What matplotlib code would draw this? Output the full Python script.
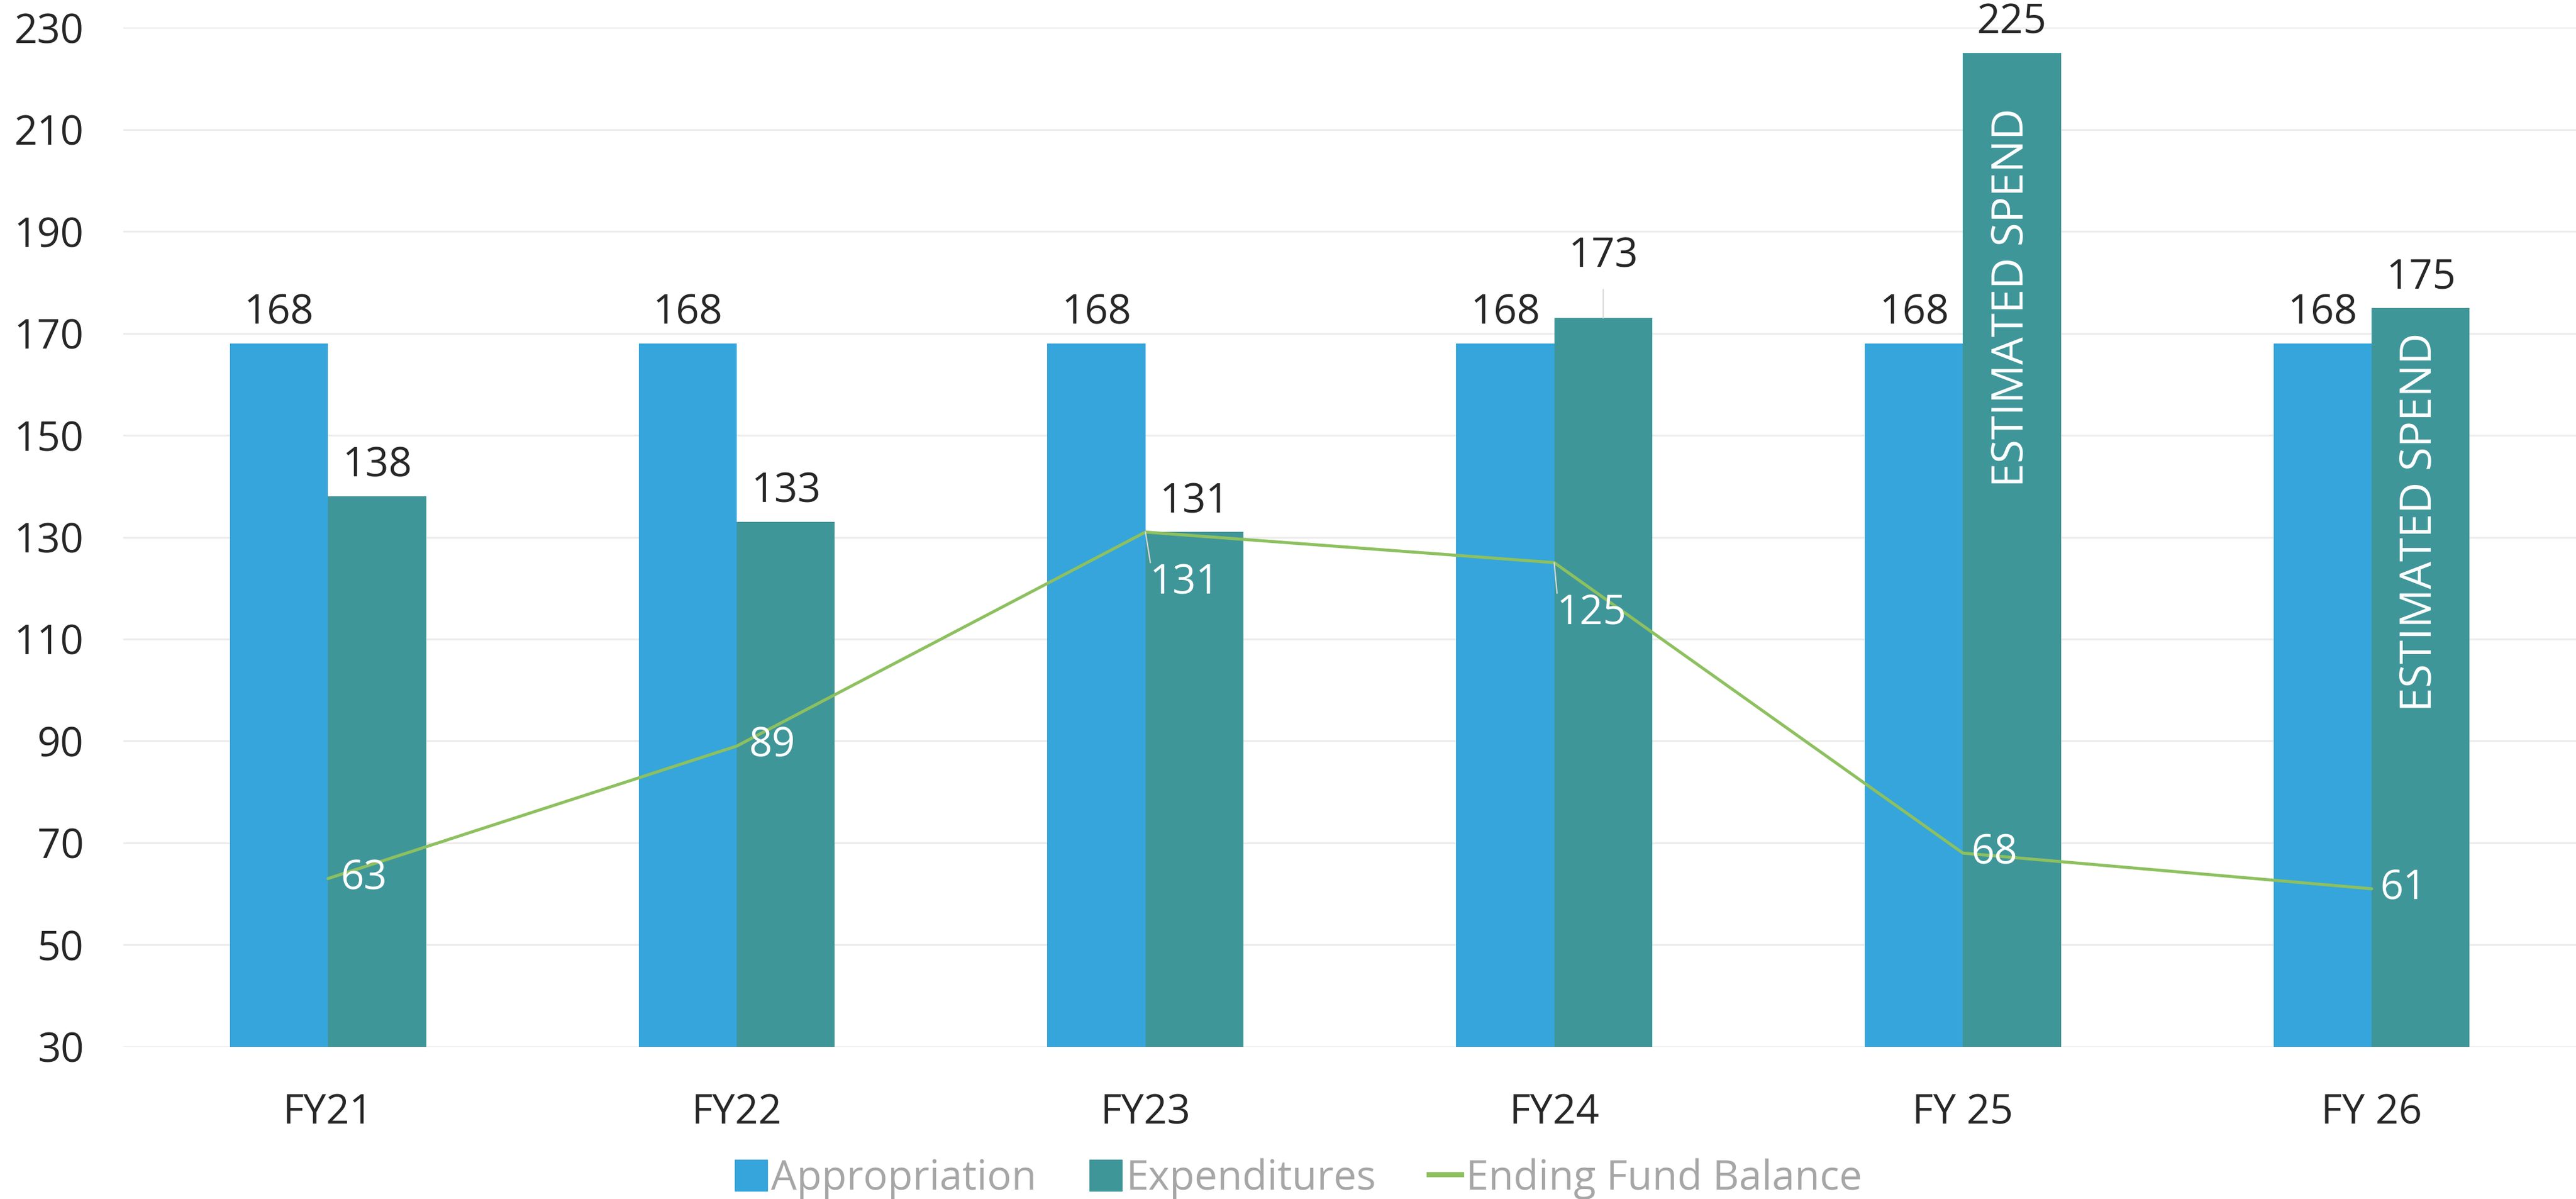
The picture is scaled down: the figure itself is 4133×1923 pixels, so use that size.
import matplotlib
matplotlib.use("Agg")
import numpy as np
import matplotlib.pyplot as plt
from matplotlib.patches import Patch
from matplotlib.lines import Line2D

# -- chart data
years = ["FY21", "FY22", "FY23", "FY24", "FY 25", "FY 26"]
appropriation = [168, 168, 168, 168, 168, 168]
expenditures = [138, 133, 131, 173, 225, 175]
fund_balance = [63, 89, 131, 125, 68, 61]
estimated = [False, False, False, False, True, True]

# -- label placement for the balance line (x shift, y shift in data units)
bal_dx = [0.03, 0.03, 0.01, 0.005, 0.02, 0.02]
bal_dy = [0, 0, -10, -10, 0, 0]
# -- centre of the rotated "ESTIMATED SPEND" note, in data units
est_y = [0, 0, 0, 0, 177, 133]

c_app = "#35A5DB"
c_exp = "#3F9699"
c_bal = "#8DC05F"
c_txt = "#262626"
c_lead = "#D9D9D9"

plt.rcParams["font.family"] = ["Open Sans", "DejaVu Sans"]
fs = 47

fig = plt.figure(figsize=(41.33, 19.23), dpi=100)
ax = fig.add_axes([0.048, 0.127, 0.952, 0.85])

x = np.arange(len(years))
w = 0.24
ax.bar(x - w / 2, appropriation, w, bottom=0, color=c_app, zorder=2)
ax.bar(x + w / 2, expenditures, w, bottom=0, color=c_exp, zorder=2)
ax.plot(x, fund_balance, color=c_bal, lw=3.5, zorder=3, solid_capstyle="round")

ax.set_xlim(-0.5, len(years) - 0.5)
ax.set_ylim(30, 230)
ax.set_yticks(range(30, 231, 20))
ax.set_xticks(x)
ax.set_xticklabels(years)
ax.grid(axis="y", color="#EBEBEB", lw=2, zorder=0)
for s in ax.spines.values():
    s.set_visible(False)
ax.tick_params(axis="both", length=0, labelsize=fs, colors=c_txt)
ax.tick_params(axis="y", pad=46)
ax.tick_params(axis="x", pad=53)

# -- bar value labels
for i in range(len(years)):
    ax.annotate(str(appropriation[i]), (x[i] - w / 2, appropriation[i]),
                xytext=(0, 11), textcoords="offset points", ha="center",
                va="bottom", fontsize=fs, color=c_txt, zorder=5)
    if i == 3:
        # -- this label is pushed up with a leader line
        ax.annotate(str(expenditures[i]), (x[i] + w / 2, expenditures[i]),
                    xytext=(0, 47), textcoords="offset points", ha="center",
                    va="bottom", fontsize=fs, color=c_txt, zorder=5)
        ax.annotate("", (x[i] + w / 2, expenditures[i]),
                    xytext=(0, 33), textcoords="offset points",
                    arrowprops=dict(arrowstyle="-", color=c_lead, lw=1.5,
                                    shrinkA=0, shrinkB=0))
    else:
        ax.annotate(str(expenditures[i]), (x[i] + w / 2, expenditures[i]),
                    xytext=(0, 11), textcoords="offset points", ha="center",
                    va="bottom", fontsize=fs, color=c_txt, zorder=5)
    if estimated[i]:
        ax.text(x[i] + w / 2, est_y[i], "ESTIMATED SPEND", rotation=90,
                ha="center", va="center", fontsize=50, color="white", zorder=5)

# -- balance line labels
for i in range(len(years)):
    tx = x[i] + bal_dx[i]
    ty = fund_balance[i] + bal_dy[i]
    ax.text(tx, ty, str(fund_balance[i]), ha="left", va="center",
            fontsize=fs, color="white", zorder=6)
    if bal_dy[i] != 0:
        ax.annotate("", (x[i], fund_balance[i]), xytext=(tx + 0.002, ty + 4),
                    arrowprops=dict(arrowstyle="-", color=c_lead, lw=1.5,
                                    shrinkA=0, shrinkB=0), zorder=4)

handles = [Patch(color=c_app), Patch(color=c_exp),
           Line2D([], [], color=c_bal, lw=6)]
leg = fig.legend(handles, ["Appropriation", "Expenditures", "Ending Fund Balance"],
                 loc="center", bbox_to_anchor=(0.504, 0.017), ncol=3,
                 frameon=False, fontsize=fs, handlelength=0.8, handleheight=0.8,
                 handletextpad=0.1, columnspacing=1.3, borderaxespad=0)
for t in leg.get_texts():
    t.set_color("#A6A6A6")

fig.savefig("out.png", dpi=100)
